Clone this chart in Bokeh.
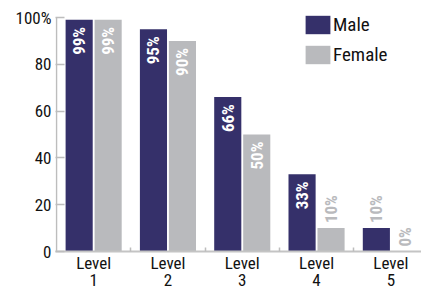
from bokeh.plotting import figure
from bokeh.models import ColumnDataSource, FixedTicker, Legend, LegendItem
from bokeh.core.properties import value
from bokeh.embed import file_html
from bokeh.resources import INLINE
import math

levels = ["Level\n1", "Level\n2", "Level\n3", "Level\n4", "Level\n5"]
male = [99, 95, 66, 33, 10]
female = [99, 90, 50, 10, 0]
y_ticks = [0, 20, 40, 60, 80, 100]
y_tick_labels = ["0", "20", "40", "60", "80", "100%"]

MALE_C = "#35306a"
FEMALE_C = "#b9babd"
AXIS_C = "#bdbdbd"
FONT = "'Roboto Condensed', 'DejaVu Sans Condensed', 'Liberation Sans Narrow', Roboto, sans-serif"

xs = list(range(1, len(levels) + 1))
off = 0.195
bw = 0.365
PX_X = 74.3            # px per category
PX_Y = 2.34            # px per percent
x0 = 0.5 - 1 / PX_X
x1 = x0 + (421 - 55) / PX_X
y1 = 100 + 7 / PX_Y

p = figure(width=421, height=293, output_backend="svg", toolbar_location=None,
           x_range=(x0, x1), y_range=(0, y1),
           min_border_left=55, min_border_right=0, min_border_top=10, min_border_bottom=42)
p.outline_line_color = None
p.grid.visible = False
p.background_fill_color = None
p.border_fill_color = None

# y axis line drawn only up to 100
p.segment(x0=[0.5], y0=[0], x1=[0.5], y1=[100], line_color=AXIS_C, line_width=1.5)

def mk(vals, dx, color):
    src = ColumnDataSource(dict(x=[x + dx for x in xs], top=vals))
    r = p.vbar(x="x", top="top", width=bw, bottom=0, source=src, fill_color=color, line_color=None)
    inside = ColumnDataSource(dict(x=[x + dx for x, v in zip(xs, vals) if v >= 30],
                                   y=[v for v in vals if v >= 30],
                                   t=[f"{v}%" for v in vals if v >= 30]))
    outside = ColumnDataSource(dict(x=[x + dx for x, v in zip(xs, vals) if v < 30],
                                    y=[v for v in vals if v < 30],
                                    t=[f"{v}%" for v in vals if v < 30]))
    p.text(x="x", y="y", text="t", source=inside, angle=math.pi / 2, text_align="right",
           text_baseline="middle", y_offset=7, text_color="white",
           text_font=value(FONT), text_font_style="bold", text_font_size="17px")
    p.text(x="x", y="y", text="t", source=outside, angle=math.pi / 2, text_align="left",
           text_baseline="middle", y_offset=-5, text_color=FEMALE_C,
           text_font=value(FONT), text_font_style="bold", text_font_size="17px")
    return r

rm = mk(male, -off, MALE_C)
rf = mk(female, off, FEMALE_C)

# y axis
ya = p.yaxis[0]
ya.ticker = FixedTicker(ticks=y_ticks)
ya.major_label_overrides = {t: l for t, l in zip(y_ticks, y_tick_labels)}
ya.major_tick_in = 9
ya.major_tick_out = 0
ya.minor_tick_line_color = None
ya.axis_line_color = None
ya.major_tick_line_color = AXIS_C
ya.major_tick_line_width = 1.5
ya.major_label_text_font = FONT
ya.major_label_text_font_size = "17px"
ya.major_label_text_color = "#111111"
ya.major_label_standoff = 4

# x axis
xa = p.xaxis[0]
xa.ticker = FixedTicker(ticks=xs, minor_ticks=[1.5, 2.5, 3.5, 4.5])
xa.major_label_overrides = {x: l for x, l in zip(xs, levels)}
xa.major_tick_in = 0
xa.major_tick_out = 0
xa.minor_tick_in = 4
xa.minor_tick_out = 0
xa.minor_tick_line_color = AXIS_C
xa.minor_tick_line_width = 1.5
xa.axis_line_color = "#c4c4c4"
xa.axis_line_width = 2
xa.major_label_text_font = FONT
xa.major_label_text_font_size = "17px"
xa.major_label_text_color = "#111111"
xa.major_label_standoff = 1
xa.major_label_text_line_height = 0.86

legend = Legend(items=[LegendItem(label="Male", renderers=[rm]),
                       LegendItem(label="Female", renderers=[rf])],
                location=(247, 185), orientation="vertical",
                border_line_color=None, background_fill_alpha=0,
                padding=0, margin=0, spacing=7,
                glyph_width=31, glyph_height=23, label_height=23,
                label_standoff=0,
                label_text_font=FONT, label_text_font_size="19px",
                label_text_color="#111111")
p.add_layout(legend, "center")

open("out.html", "w").write(file_html(p, INLINE))
